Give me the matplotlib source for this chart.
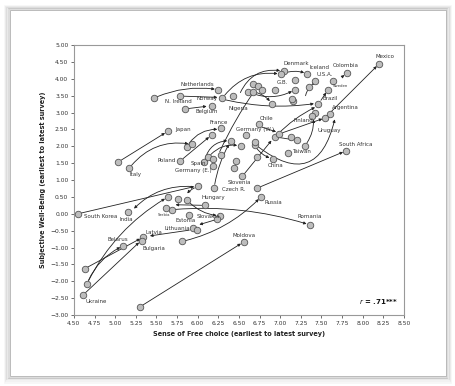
import matplotlib.pyplot as plt
from matplotlib.patches import Rectangle
from matplotlib.ticker import FuncFormatter

# circles: (free choice, well-being)
circle_x = [8.20, 7.81, 7.33, 7.64, 7.58, 7.46, 7.04, 7.01, 6.94, 7.18,
            7.42, 7.35, 7.18, 7.15, 7.14, 6.90, 6.67, 6.73, 6.78, 6.61,
            6.67, 6.43, 6.30, 6.25, 5.47, 5.79, 5.85, 6.17, 7.60, 7.54,
            7.42, 7.38, 6.74, 6.59, 6.69, 6.70, 6.94, 6.99, 7.13, 7.20,
            7.10, 7.30, 7.80, 6.91, 6.72, 6.54, 6.20, 6.77, 6.72, 7.36,
            6.56, 6.09, 6.27, 6.24, 5.90, 5.62, 5.69, 5.94, 5.99, 5.34,
            5.32, 5.10, 4.61, 4.66, 4.63, 5.30, 5.81, 4.55, 5.16, 5.64,
            5.76, 5.87, 6.00, 5.79, 6.08, 6.13, 6.19, 6.19, 6.28, 6.44,
            6.47, 6.40, 6.52, 6.28, 6.17, 5.87, 5.93, 5.64, 5.17, 5.04]
circle_y = [4.45, 4.18, 4.15, 3.95, 3.68, 3.25, 4.23, 4.14, 3.68, 3.97,
            3.95, 3.76, 3.68, 3.34, 3.41, 3.26, 3.84, 3.78, 3.66, 3.62,
            3.62, 3.50, 3.43, 3.68, 3.43, 3.49, 3.11, 3.20, 2.96, 2.84,
            2.98, 2.91, 2.65, 2.34, 2.03, 2.12, 2.28, 2.37, 2.27, 2.18,
            1.81, 2.02, 1.87, 1.63, 1.68, 1.11, 0.77, 0.51, 0.76, -0.33,
            -0.83, 0.25, -0.06, -0.16, -0.03, 0.17, 0.10, -0.42, -0.47, -0.69,
            -0.80, -0.95, -2.41, -2.07, -1.63, -2.76, -0.82, 0.00, 0.04, 0.50,
            0.44, 0.41, 0.83, 1.57, 1.54, 1.68, 1.63, 1.43, 1.73, 1.35,
            1.56, 2.17, 2.01, 2.54, 2.34, 1.99, 2.06, 2.45, 1.35, 1.54]

# arrows: start x, start y, end x, end y, curvature
arrows = [
    (7.54, 2.84, 8.20, 4.45, 0), (7.72, 4.00, 7.81, 4.18, 0),
    (7.47, 3.28, 7.58, 3.68, 0), (7.30, 2.02, 7.40, 2.90, 0.2),
    (6.72, 0.76, 7.80, 1.87, 0), (5.30, -2.76, 6.56, -0.83, 0),
    (5.81, -0.82, 6.77, 0.51, 0.15), (5.68, 0.12, 7.36, -0.33, -0.1),
    (4.55, 0.00, 6.00, 0.83, 0), (5.98, 0.80, 5.20, 0.08, 0.25),
    (4.61, -2.41, 5.32, -0.78, 0), (4.63, -1.63, 5.34, -0.69, 0),
    (4.66, -2.07, 5.10, -0.95, -0.2), (4.66, -2.07, 5.64, 0.50, -0.15),
    (5.94, -0.47, 5.38, -0.67, 0), (6.24, -0.16, 5.98, -0.35, 0),
    (6.09, 0.25, 5.69, 0.27, 0), (5.87, 0.41, 6.27, -0.06, 0.2),
    (6.00, 0.80, 5.85, 0.52, 0.2), (6.20, 0.77, 6.40, 2.15, -0.1),
    (6.25, 1.75, 6.72, 3.75, -0.05), (6.54, 1.11, 6.92, 2.25, 0),
    (5.47, 3.43, 6.25, 3.68, -0.15), (5.79, 3.49, 6.28, 3.45, 0),
    (5.85, 3.11, 6.15, 3.20, 0), (6.30, 3.43, 7.01, 4.14, -0.3),
    (6.50, 3.50, 7.04, 4.23, -0.4), (6.30, 3.40, 7.45, 3.28, 0.1),
    (6.61, 3.62, 7.18, 3.68, 0.25), (6.67, 3.62, 6.90, 3.26, -0.2),
    (7.01, 4.14, 7.33, 4.15, -0.2), (7.30, 3.40, 7.47, 3.95, -0.3),
    (6.94, 2.28, 7.46, 3.20, -0.1), (6.99, 2.37, 7.55, 2.85, 0),
    (6.74, 2.60, 6.99, 2.40, 0), (6.94, 2.28, 7.20, 2.18, 0),
    (6.70, 2.05, 7.67, 2.90, 0.8), (6.69, 2.03, 6.91, 1.63, 0.2),
    (6.08, 1.54, 6.40, 2.17, -0.4), (6.13, 1.68, 6.52, 2.01, -0.3),
    (5.79, 1.57, 6.17, 2.34, 0), (5.04, 1.54, 5.64, 2.45, 0),
    (5.17, 1.35, 5.93, 2.06, -0.3), (5.87, 2.00, 6.28, 2.50, -0.3),
]

# country labels: text, x, y, font size
labels = [
    ("Mexico", 8.27, 4.65, 4), ("Colombia", 7.80, 4.41, 4),
    ("Iceland", 7.47, 4.33, 4), ("Denmark", 7.19, 4.45, 4),
    ("U.S.A.", 7.54, 4.14, 4), ("G.B.", 7.03, 3.89, 4),
    ("Sweden", 7.73, 3.80, 2.8), ("Brazil", 7.60, 3.41, 4),
    ("Argentina", 7.79, 3.14, 4), ("Finland", 7.28, 2.77, 4),
    ("Chile", 6.83, 2.83, 4), ("Germany (W.)", 6.69, 2.50, 4),
    ("Uruguay", 7.59, 2.47, 4), ("South Africa", 7.91, 2.05, 4),
    ("Taiwan", 7.26, 1.85, 4), ("China", 6.94, 1.44, 4),
    ("Slovenia", 6.51, 0.93, 4), ("Czech R.", 6.44, 0.72, 4),
    ("Russia", 6.92, 0.34, 4), ("Romania", 7.36, -0.09, 4),
    ("Moldova", 6.56, -0.65, 4), ("Hungary", 6.19, 0.48, 4),
    ("Slovakia", 6.13, -0.08, 4), ("Estonia", 5.85, -0.20, 4),
    ("Serbia", 5.59, -0.05, 2.8), ("Lithuania", 5.75, -0.43, 4),
    ("Latvia", 5.47, -0.54, 4), ("Belarus", 5.03, -0.77, 4),
    ("Bulgaria", 5.47, -1.02, 4), ("Ukraine", 4.77, -2.59, 4),
    ("South Korea", 4.82, -0.08, 4), ("India", 5.14, -0.17, 4),
    ("Italy", 5.25, 1.17, 4), ("Poland", 5.62, 1.57, 4),
    ("Japan", 5.82, 2.51, 4), ("France", 6.25, 2.72, 4),
    ("Spain", 6.01, 1.48, 4), ("Germany (E.)", 5.95, 1.28, 4),
    ("Netherlands", 5.99, 3.84, 4), ("N. Ireland", 5.77, 3.32, 4),
    ("Norway", 6.11, 3.43, 4), ("Belgium", 6.11, 3.02, 4),
    ("Nigeria", 6.49, 3.11, 4),
]

fig = plt.figure(figsize=(4.56, 3.86), dpi=100)

# card with soft shadow
for i, a in enumerate([0.04, 0.06, 0.1, 0.16]):
    d = (4 - i) * 0.003
    fig.patches.append(Rectangle((0.022 - d, 0.026 - d * 1.5), 0.956 + 2 * d, 0.948 + 2 * d * 1.2,
                                 transform=fig.transFigure, facecolor='none',
                                 edgecolor='black', lw=1.2, alpha=a, zorder=-2))
fig.patches.append(Rectangle((0.022, 0.026), 0.956, 0.948, transform=fig.transFigure,
                             facecolor='white', edgecolor='#b0b0b0', lw=0.6, zorder=-1))

ax = fig.add_axes([0.162, 0.184, 0.724, 0.699])
ax.set_facecolor('white')

for x0, y0, x1, y1, rad in arrows:
    ax.annotate("", xy=(x1, y1), xytext=(x0, y0),
                arrowprops=dict(arrowstyle='-|>', mutation_scale=4, lw=0.6,
                                color='#222222', shrinkA=2.5, shrinkB=2.5,
                                connectionstyle='arc3,rad=%s' % rad))

ax.scatter(circle_x, circle_y, s=22, facecolor='#bdbdbd', edgecolor='#555555',
           linewidths=0.6, zorder=3)

for name, x, y, fs in labels:
    ax.text(x, y, name, fontsize=fs, ha='center', va='center', color='#333333', zorder=4)

ax.text(8.42, -2.60, r"$\it{r}$ = .71***", fontsize=5, fontweight='bold',
        ha='right', va='center', color='#111111')

ax.set_xlim(4.5, 8.5)
ax.set_ylim(-3.0, 5.0)
ax.set_xticks([4.5 + 0.25 * i for i in range(17)])
ax.set_yticks([-3.0 + 0.5 * i for i in range(17)])
fmt = FuncFormatter(lambda v, p: ('%.2f' % v).replace('-', '\u2212'))
ax.xaxis.set_major_formatter(fmt)
ax.yaxis.set_major_formatter(fmt)
ax.tick_params(labelsize=4.3, length=2, width=0.5, colors='#333333', pad=2)
for s in ax.spines.values():
    s.set_color('#999999')
    s.set_linewidth(0.8)

ax.set_xlabel('Sense of Free choice (earliest to latest survey)', fontsize=4.7,
              fontweight='bold', labelpad=4, color='#222222')
ax.set_ylabel('Subjective Well-Being (earliest to latest survey)', fontsize=4.7,
              fontweight='bold', labelpad=3, color='#222222')

fig.savefig('out.png', dpi=100)
